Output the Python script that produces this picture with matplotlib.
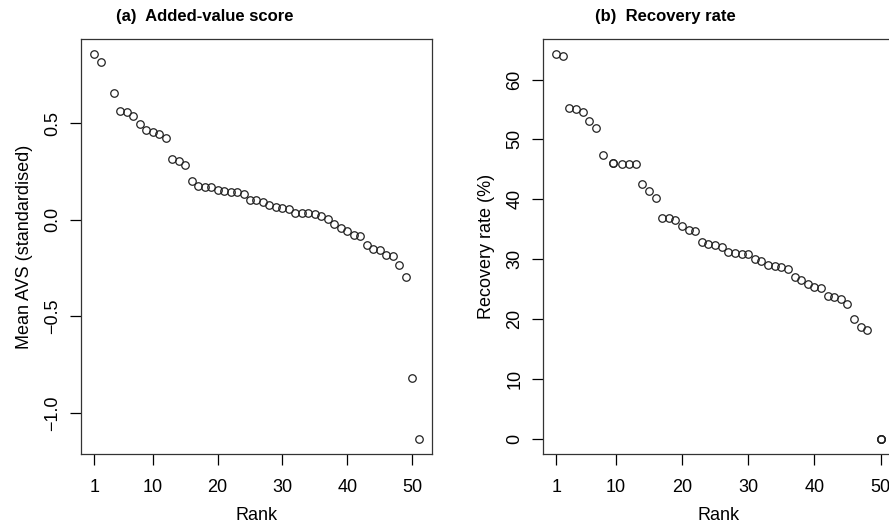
import numpy as np
import matplotlib
matplotlib.use('Agg')
import matplotlib.pyplot as plt

plt.rcParams['font.family'] = ['Liberation Sans', 'DejaVu Sans']

##Panel (a): added-value score by rank
avs_rank = [1, 2, 4, 5, 6, 7, 8, 9, 10, 11, 12, 13, 14, 15, 16, 17, 18, 19, 20,
            21, 22, 23, 24, 25, 26, 27, 28, 29, 30, 31, 32, 33, 34, 35, 36, 37,
            38, 39, 40, 41, 42, 43, 44, 45, 46, 47, 48, 49, 50, 51]
avs_value = [0.857, 0.817, 0.657, 0.562, 0.558, 0.536, 0.495, 0.464, 0.457,
             0.443, 0.426, 0.317, 0.304, 0.284, 0.200, 0.176, 0.171, 0.170,
             0.156, 0.148, 0.142, 0.142, 0.136, 0.105, 0.105, 0.095, 0.076,
             0.065, 0.064, 0.057, 0.034, 0.034, 0.034, 0.033, 0.020, 0.005,
             -0.019, -0.044, -0.056, -0.076, -0.083, -0.128, -0.150, -0.157,
             -0.181, -0.186, -0.236, -0.295, -0.821, -1.134]

##Panel (b): recovery rate by rank (ties share the average rank)
rec_rank = [1, 2, 3, 4, 5, 6, 7, 8, 9.5, 9.5, 11, 12, 13, 14, 15, 16, 17, 18,
            19, 20, 21, 22, 23, 24, 25, 26, 27, 28, 29, 30, 31, 32, 33, 34, 35,
            36, 37, 38, 39, 40, 41, 42, 43, 44, 45, 46, 47, 48, 50, 50, 50]
rec_value = [64.2, 63.9, 55.2, 55.0, 54.6, 53.0, 51.9, 47.4, 46.1, 46.1, 45.9,
             45.9, 45.9, 42.5, 41.4, 40.3, 36.8, 36.8, 36.6, 35.6, 34.9, 34.7,
             32.8, 32.6, 32.4, 32.0, 31.2, 31.0, 30.8, 30.8, 30.1, 29.7, 29.1,
             28.9, 28.7, 28.4, 27.0, 26.5, 25.9, 25.4, 25.2, 23.9, 23.7, 23.3,
             22.5, 20.0, 18.6, 18.2, 0.0, 0.0, 0.0]

rank_ticks = [1, 10, 20, 30, 40, 50]
avs_ticks = [-1.0, -0.5, 0.0, 0.5]
rec_ticks = [0, 10, 20, 30, 40, 50, 60]


def r_limits(vals):
    lo, hi = min(vals), max(vals)
    d = (hi - lo) * 0.04
    return lo - d, hi + d


def style_axis(ax):
    ax.tick_params(axis='both', direction='out', length=8, width=0.9,
                   labelsize=13, colors='black')
    ax.tick_params(axis='x', pad=9.5)
    ax.tick_params(axis='y', pad=6.5)
    for lab in ax.get_yticklabels():
        lab.set_rotation(90)
        lab.set_va('center')
    for s in ax.spines.values():
        s.set_linewidth(0.9)
        s.set_color('#333333')


fig = plt.figure(figsize=(8.89, 5.27), dpi=100)

ax1 = fig.add_axes([0.0915, 0.138, 0.394, 0.788])
ax1.plot(avs_rank, avs_value, 'o', mfc='none', mec='#222222', ms=5.4, mew=0.9)
ax1.set_xlim(*r_limits(avs_rank))
ax1.set_ylim(*r_limits(avs_value))
ax1.set_xticks(rank_ticks)
ax1.set_yticks(avs_ticks)
ax1.set_yticklabels(['\u22121.0', '\u22120.5', '0.0', '0.5'])
ax1.set_xlabel('Rank', fontsize=13, labelpad=8)
ax1.set_ylabel('Mean AVS (standardised)', fontsize=13, labelpad=8)
ax1.text(0.353, 1.055, '(a)  Added-value score', transform=ax1.transAxes,
         ha='center', va='center', fontsize=12, fontweight='bold')
style_axis(ax1)

ax2 = fig.add_axes([0.6111, 0.138, 0.394, 0.788])
ax2.plot(rec_rank, rec_value, 'o', mfc='none', mec='#222222', ms=5.4, mew=0.9)
ax2.set_xlim(*r_limits(rec_rank))
ax2.set_ylim(*r_limits(rec_value))
ax2.set_xticks(rank_ticks)
ax2.set_yticks(rec_ticks)
ax2.set_xlabel('Rank', fontsize=13, labelpad=8)
ax2.set_ylabel('Recovery rate (%)', fontsize=13, labelpad=8)
ax2.text(0.350, 1.055, '(b)  Recovery rate', transform=ax2.transAxes,
         ha='center', va='center', fontsize=12, fontweight='bold')
style_axis(ax2)

plt.savefig('out.png', dpi=100)
